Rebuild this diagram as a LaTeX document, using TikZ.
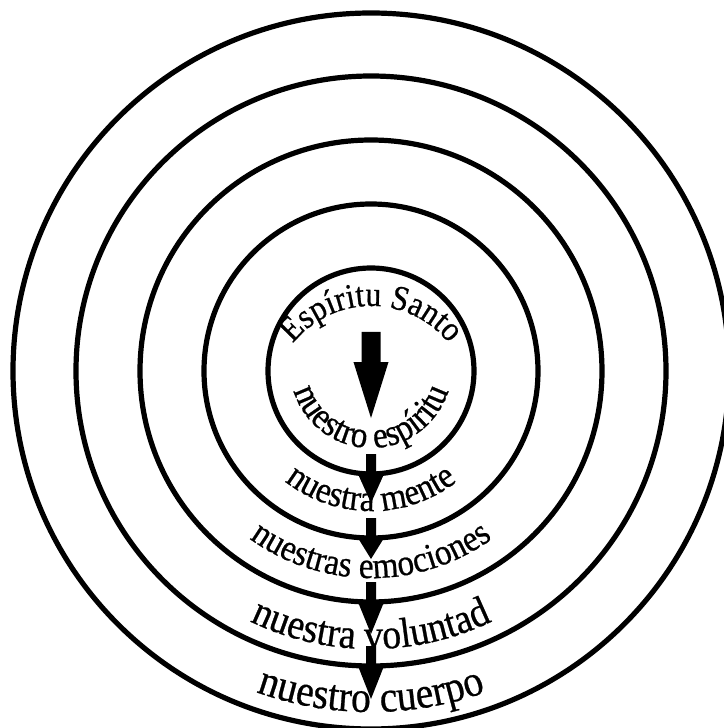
\documentclass[tikz,border=0pt]{standalone}
\usepackage{fontspec}
\setmainfont{Liberation Serif}
\newfontfamily\ringfont[FakeStretch=0.9, FakeBold=0.6]{Liberation Serif}
\usetikzlibrary{decorations.text}

\begin{document}
\begin{tikzpicture}[x=0.5pt, y=0.5pt,
    ring/.style={draw, line width=2.6pt},
    arc text/.style 2 args={decorate, decoration={text along path, text align=center,
        text={|\ringfont\fontsize{#1}{#1}\selectfont|#2}}}]
    \useasboundingbox (-371,-357) rectangle (352,371);
    \coordinate (c) at (0,0);

    % concentric rings
    \foreach \r in {103,167,231,295,358}
        \draw[ring] (c) circle[radius=\r];

    % curved labels
    \path[arc text={17.5}{Espíritu Santo}] ([shift={(0,-35)}]165:100) arc[start angle=165, end angle=15, radius=100];
    \path[arc text={18.5}{nuestro espíritu}] ([shift={(0,4)}]183:81) arc[start angle=183, end angle=357, radius=81];
    \path[arc text={18.5}{nuestra mente}] (c) ++(205:140) arc[start angle=205, end angle=335, radius=140];
    \path[arc text={18.5}{nuestras emociones}] (c) ++(210:207) arc[start angle=210, end angle=330, radius=207];
    \path[arc text={21}{nuestra voluntad}] (c) ++(230:278) arc[start angle=230, end angle=310, radius=278];
    \path[arc text={22}{nuestro cuerpo}] (c) ++(240:341) arc[start angle=240, end angle=300, radius=341];

    % big arrow
    \fill (-9.5,39) -- (9.5,39) -- (9.5,9) -- (17.5,9) -- (0,-47) -- (-17.5,9) -- (-9.5,9) -- cycle;

    % small arrows across the rings
    \foreach \r/\t in {103/29, 167/21, 231/32, 295/33}
        \fill (-5,{-\r+20}) -- (5,{-\r+20}) -- (5,-\r) -- (13,-\r) -- (0,{-\r-\t}) -- (-13,-\r) -- (-5,-\r) -- cycle;
\end{tikzpicture}
\end{document}
